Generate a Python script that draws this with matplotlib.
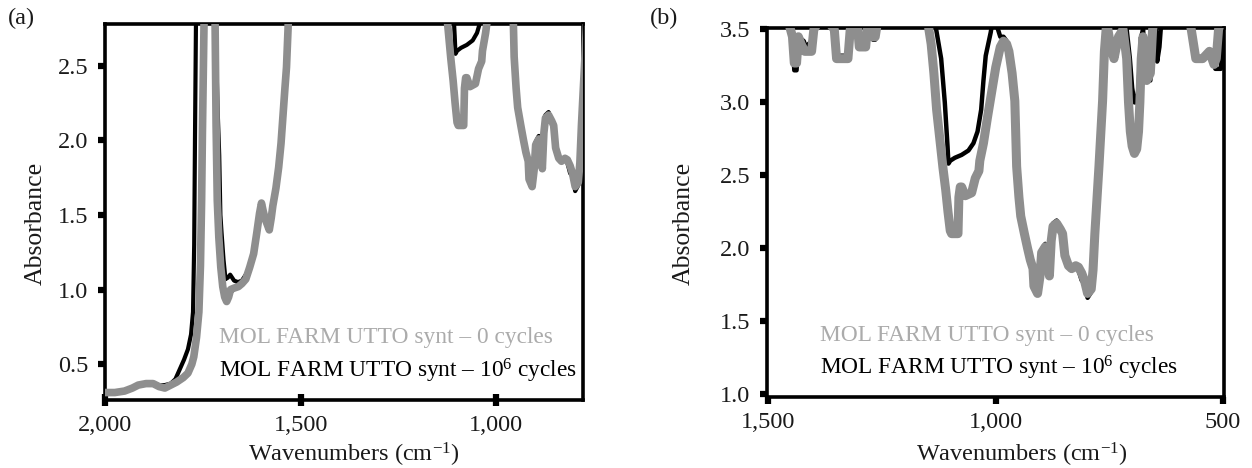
import matplotlib
matplotlib.use("Agg")
import matplotlib.pyplot as plt
from matplotlib.ticker import FuncFormatter

plt.rcParams['font.family'] = ['Liberation Serif', 'DejaVu Serif']
plt.rcParams['mathtext.fontset'] = 'custom'
plt.rcParams['mathtext.rm'] = 'Liberation Serif'
plt.rcParams['mathtext.it'] = 'Liberation Serif:italic'

# ---------------- data ----------------
wn_0cyc = [2000, 1975, 1950, 1930, 1915, 1895, 1877, 1862, 1847, 1832, 1817, 1800, 1788,
           1778, 1773, 1766, 1760, 1756, 1753, 1751, 1748, 1745, 1740, 1722, 1719, 1716,
           1713, 1709, 1704, 1699, 1694, 1689, 1684, 1679, 1670, 1659, 1650, 1640, 1630,
           1620, 1612, 1605, 1600, 1595, 1590, 1580, 1575, 1571, 1563, 1556, 1550, 1546,
           1540, 1536, 1532, 1528, 1520, 1510, 1460, 1447, 1443, 1438, 1434, 1428, 1420,
           1405, 1400, 1380, 1355, 1350, 1325, 1320, 1305, 1300, 1286, 1282, 1270, 1265,
           1260, 1240, 1150, 1147, 1142, 1136, 1130, 1123, 1116, 1110, 1105, 1100, 1097,
           1090, 1083, 1081, 1078, 1075, 1067, 1060, 1053, 1045, 1037, 1035, 1027, 1018,
           1010, 1000, 990, 983, 976, 971, 964, 958, 954, 949, 945, 937, 930, 924, 918,
           916, 908, 903, 899, 891, 886, 882, 878, 874, 866, 858, 853, 848, 840, 833, 824,
           818, 811, 805, 798, 790, 786, 782, 773, 765, 761, 756, 748, 740, 730, 720, 712,
           708, 704, 700, 695, 690, 686, 683, 680, 676, 668, 660, 655, 650, 575, 565, 560,
           545, 530, 520, 515, 510, 500]
abs_0cyc = [0.31, 0.31, 0.32, 0.34, 0.36, 0.37, 0.37, 0.35, 0.34, 0.36, 0.38, 0.41, 0.44,
            0.50, 0.55, 0.68, 0.85, 1.16, 1.60, 2.04, 2.60, 3.10, 3.60, 3.60, 2.90, 2.10,
            1.60, 1.35, 1.15, 1.02, 0.95, 0.92, 0.95, 1.00, 1.01, 1.02, 1.04, 1.07, 1.15,
            1.24, 1.38, 1.51, 1.58, 1.52, 1.47, 1.40, 1.48, 1.56, 1.68, 1.82, 1.98, 2.13,
            2.35, 2.49, 2.75, 3.10, 3.45, 3.60, 3.60, 3.45, 3.27, 3.27, 3.45, 3.40, 3.35,
            3.35, 3.50, 3.60, 3.50, 3.30, 3.30, 3.50, 3.55, 3.38, 3.38, 3.52, 3.45, 3.45,
            3.55, 3.60, 3.60, 3.50, 3.40, 3.20, 2.95, 2.75, 2.55, 2.40, 2.25, 2.12, 2.10,
            2.10, 2.10, 2.35, 2.42, 2.42, 2.36, 2.37, 2.38, 2.48, 2.53, 2.60, 2.72, 2.90,
            3.05, 3.24, 3.38, 3.42, 3.40, 3.35, 3.20, 3.01, 2.56, 2.35, 2.22, 2.10, 2.00,
            1.92, 1.86, 1.74, 1.69, 1.80, 1.97, 2.01, 1.92, 1.81, 2.05, 2.15, 2.17, 2.13,
            2.10, 1.95, 1.88, 1.86, 1.88, 1.87, 1.83, 1.78, 1.69, 1.72, 1.85, 2.10, 2.56,
            3.01, 3.35, 3.55, 3.40, 3.30, 3.45, 3.50, 3.30, 3.00, 2.80, 2.70, 2.65, 2.68,
            2.80, 3.00, 3.30, 3.45, 3.15, 3.20, 3.50, 3.60, 3.60, 3.40, 3.30, 3.30, 3.35,
            3.26, 3.30, 3.50, 3.60]

wn_1e6cyc = [2000, 1975, 1950, 1930, 1915, 1895, 1877, 1862, 1847, 1832, 1820, 1808, 1798,
             1788, 1780, 1775, 1772, 1770, 1768, 1765, 1722, 1719, 1712, 1708, 1705, 1702,
             1697, 1692, 1686, 1680, 1670, 1660, 1650, 1640, 1630, 1620, 1612, 1605,
             1600, 1595, 1590, 1580, 1575, 1571, 1563, 1556, 1550, 1546, 1540, 1536, 1532,
             1528, 1520, 1510, 1460, 1447, 1443, 1438, 1434, 1422, 1418, 1405, 1400, 1380,
             1355, 1350, 1325, 1320, 1305, 1300, 1286, 1282, 1270, 1265, 1260, 1240, 1140,
             1131, 1120, 1112, 1106, 1104, 1100, 1090, 1075, 1060, 1049, 1040, 1032, 1027,
             1022, 1011, 1005, 990, 983, 976, 971, 964, 958, 954, 949, 945, 937, 930, 924,
             918, 916, 908, 903, 899, 891, 886, 882, 878, 874, 866, 858, 853, 848, 840, 833,
             824, 818, 811, 805, 798, 790, 786, 782, 773, 765, 761, 756, 748, 740, 730, 720,
             712, 705, 700, 695, 690, 686, 683, 680, 676, 668, 660, 655, 648, 645, 640, 636,
             575, 565, 560, 545, 530, 520, 517, 505, 500]
abs_1e6cyc = [0.31, 0.31, 0.32, 0.34, 0.36, 0.37, 0.37, 0.36, 0.36, 0.37, 0.40, 0.47, 0.53,
              0.60, 0.70, 0.85, 1.30, 2.00, 2.60, 3.60, 3.60, 2.90, 2.20, 1.90, 1.50, 1.38,
              1.20, 1.07, 1.08, 1.10, 1.06, 1.05, 1.06, 1.10, 1.15, 1.24, 1.38, 1.51,
              1.58, 1.52, 1.47, 1.40, 1.48, 1.56, 1.68, 1.82, 1.98, 2.13, 2.35, 2.49, 2.75,
              3.10, 3.45, 3.60, 3.60, 3.45, 3.22, 3.22, 3.45, 3.42, 3.38, 3.42, 3.50, 3.60,
              3.50, 3.32, 3.32, 3.50, 3.55, 3.40, 3.40, 3.52, 3.43, 3.43, 3.55, 3.60, 3.60,
              3.50, 3.30, 3.00, 2.70, 2.58, 2.60, 2.62, 2.64, 2.67, 2.72, 2.80, 2.95, 3.15,
              3.32, 3.48, 3.60, 3.45, 3.45, 3.42, 3.35, 3.20, 3.01, 2.56, 2.35, 2.22, 2.10,
              2.00, 1.92, 1.86, 1.74, 1.69, 1.80, 1.99, 2.03, 1.92, 1.81, 2.07, 2.17, 2.19,
              2.13, 2.10, 1.95, 1.88, 1.86, 1.88, 1.85, 1.78, 1.76, 1.66, 1.70, 1.85, 2.10,
              2.56, 3.01, 3.35, 3.55, 3.40, 3.30, 3.45, 3.50, 3.50, 3.30, 3.10, 3.00, 3.00,
              3.10, 3.30, 3.45, 3.50, 3.15, 3.15, 3.50, 3.55, 3.28, 3.38, 3.55, 3.60, 3.40,
              3.30, 3.30, 3.35, 3.28, 3.23, 3.23, 3.60]

yticks_a = [0.5, 1.0, 1.5, 2.0, 2.5]
xticks_a = [2000, 1500, 1000]
yticks_b = [1.0, 1.5, 2.0, 2.5, 3.0, 3.5]
xticks_b = [1500, 1000, 500]

label_0 = "MOL FARM UTTO synt \u2013 0 cycles"
label_1 = "MOL FARM UTTO synt \u2013 10$^{6}$ cycles"
xlabel = "Wavenumbers (cm$^{\u22121}$)"
ylabel = "Absorbance"

# ---------------- figure ----------------
W, H = 1252, 468
fig = plt.figure(figsize=(W / 100, H / 100), dpi=100)


def box(l, t, r, b):
    return [l / W, 1 - b / H, (r - l) / W, (b - t) / H]


def ftext(x, y, s, **kw):
    return fig.text(x / W, 1 - y / H, s, **kw)


ax_a = fig.add_axes(box(105, 24, 583, 400))
ax_b = fig.add_axes(box(767, 28, 1224, 397))

GRAY = '#8e8e8e'
LEG_GRAY = '#ababab'
TXT = '#1a1a1a'
FS = 17.5
LFS = 16.8

comma_fmt = FuncFormatter(lambda v, p: f"{int(v):,}")
dec_fmt = FuncFormatter(lambda v, p: f"{v:.1f}")

for ax, xl, yl, xt, yt, xdir, lwg, lwb in [
        (ax_a, (2000, 778), (0.26, 2.78), xticks_a, yticks_a, 'inout', 5.5, 3.0),
        (ax_b, (1503, 498), (0.98, 3.51), xticks_b, yticks_b, 'out', 6.5, 3.2)]:
    ax.plot(wn_1e6cyc, abs_1e6cyc, color='black', lw=lwb, solid_joinstyle='round',
            solid_capstyle='round', zorder=2)
    ax.plot(wn_0cyc, abs_0cyc, color=GRAY, lw=lwg, solid_joinstyle='round',
            solid_capstyle='round', zorder=3)
    ax.set_xlim(*xl)
    ax.set_ylim(*yl)
    ax.set_xticks(xt)
    ax.set_yticks(yt)
    ax.xaxis.set_major_formatter(comma_fmt)
    ax.yaxis.set_major_formatter(dec_fmt)
    for s in ax.spines.values():
        s.set_linewidth(2.6)
        s.set_color('black')
    ax.tick_params(axis='y', direction='out', length=5, width=4.5, pad=7,
                   labelsize=FS, labelcolor=TXT, color='black')
    ax.tick_params(axis='x', direction=xdir, length=8 if xdir == 'inout' else 5,
                   width=4.5, pad=7 if xdir == 'inout' else 6, labelsize=FS,
                   labelcolor=TXT, color='black')

# axis labels
ftext(354, 462, xlabel, fontsize=FS, color=TXT, ha='center', va='baseline')
ftext(1022, 462, xlabel, fontsize=FS, color=TXT, ha='center', va='baseline')
ftext(36, 223, ylabel, fontsize=FS + 1, color=TXT, ha='center', va='center', rotation=90)
ftext(684, 223, ylabel, fontsize=FS + 1, color=TXT, ha='center', va='center', rotation=90)

# legends as text
ftext(219, 338, label_0, color=LEG_GRAY, fontsize=LFS, ha='left', va='center')
ftext(219, 371, label_1, color='black', fontsize=LFS, ha='left', va='center')
ftext(820, 335, label_0, color=LEG_GRAY, fontsize=LFS, ha='left', va='center')
ftext(820, 368, label_1, color='black', fontsize=LFS, ha='left', va='center')

ftext(8, 18, "(a)", fontsize=FS, color=TXT, ha='left', va='center')
ftext(650, 18, "(b)", fontsize=FS, color=TXT, ha='left', va='center')

fig.savefig("out.png", dpi=100)
